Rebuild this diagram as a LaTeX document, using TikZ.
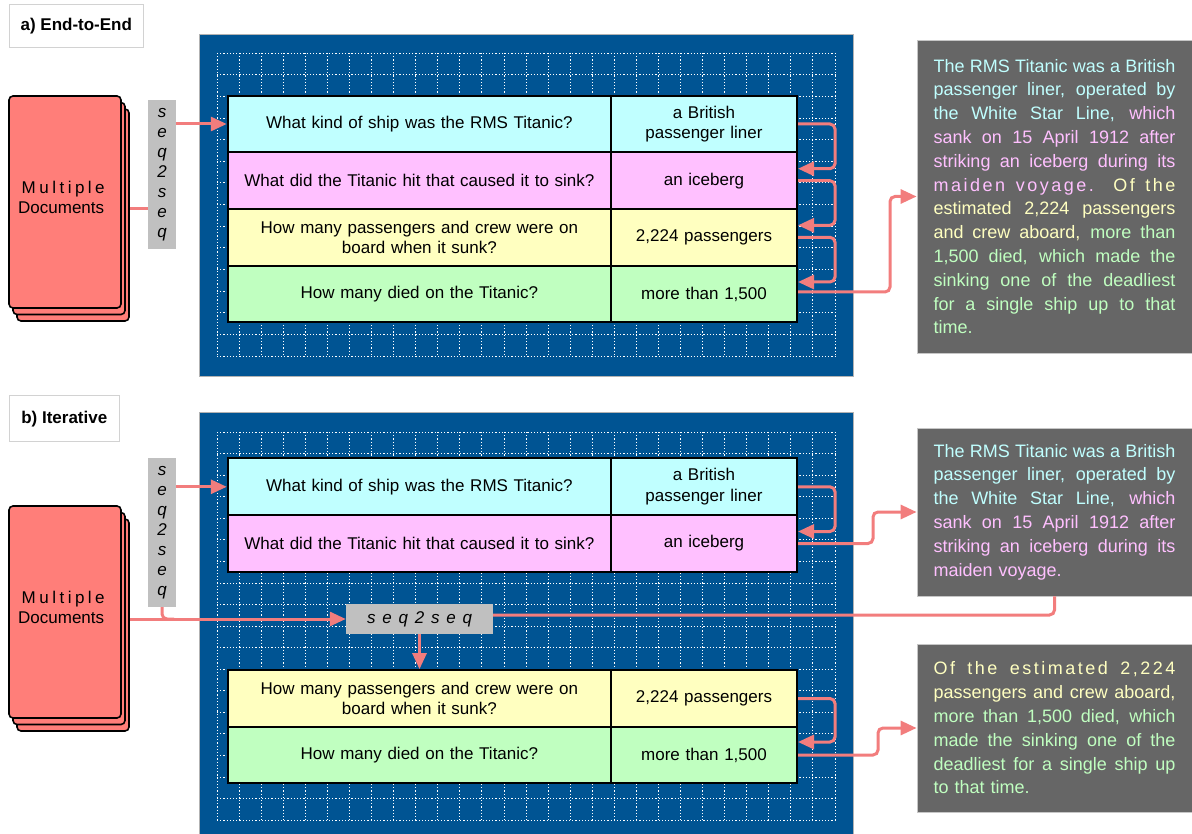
\documentclass[tikz,border=0pt]{standalone}
\usepackage{fontspec}
\setmainfont{Liberation Sans}
\usetikzlibrary{arrows.meta}
\definecolor{panelblue}{RGB}{0,84,147}
\definecolor{qcyan}{RGB}{192,255,255}
\definecolor{qpink}{RGB}{255,192,255}
\definecolor{qyellow}{RGB}{255,255,192}
\definecolor{qgreen}{RGB}{192,255,192}
\definecolor{arrowred}{RGB}{242,125,125}
\definecolor{docred}{RGB}{255,126,121}
\definecolor{boxgray}{RGB}{102,102,102}
\definecolor{seqgray}{RGB}{192,192,192}
\newcommand{\jl}[1]{\makebox[242pt][s]{\spaceskip=0pt\xspaceskip=0pt #1}}
\newcommand{\mltp}{\makebox[90pt]{M\hfil u\hfil l\hfil t\hfil i\hfil p\hfil l\hfil e}}
\begin{document}
\begin{tikzpicture}[x=1pt,y=-1pt,
  gridline/.style={white, line width=0.8pt, dash pattern=on 1.2pt off 2pt},
  cell/.style={draw=black, line width=2pt, minimum height=56.7pt, inner sep=2pt, align=center, font=\fontsize{17}{20.5}\selectfont},
  qcell/.style={cell, minimum width=383.3pt, text width=375pt},
  acell/.style={cell, minimum width=186pt, text width=178pt},
  doc/.style={draw=black, line width=1.6pt, fill=docred, rounded corners=4pt, minimum width=112pt, minimum height=212pt},
  doctext/.style={font=\fontsize{17}{19.6}\selectfont, align=left, inner sep=0pt, anchor=west},
  seqv/.style={fill=seqgray, minimum width=28pt, minimum height=149pt, inner sep=0pt, align=center, font=\fontsize{17}{20}\selectfont\itshape},
  seqh/.style={fill=seqgray, minimum width=147pt, minimum height=30pt, inner sep=0pt, font=\fontsize{17}{20}\selectfont\itshape},
  arr/.style={draw=arrowred, line width=3pt, rounded corners=5pt, -{Triangle[length=16pt,width=14pt]}},
  conn/.style={draw=arrowred, line width=3pt, rounded corners=5pt},
  panellabel/.style={draw=gray!35, line width=1pt, fill=white, font=\fontsize{17}{20}\selectfont\bfseries, inner sep=0pt},
  tbox/.style={fill=boxgray, draw=gray!45, line width=0.8pt, text width=242pt, inner xsep=16.5pt, inner ysep=0pt, align=left, font=\fontsize{18}{23.8}\selectfont}
]
\useasboundingbox (0,0) rectangle (1192,834);

% ---------- panel a ----------
\fill[panelblue] (199.5,34.5) rectangle (853.5,376.5);
\draw[gray!60, line width=1pt] (199.5,34.5) rectangle (853.5,376.5);
\foreach \i in {0,...,28} \draw[gridline] (217+\i*22.07,53) -- (217+\i*22.07,356);
\foreach \j in {0,...,14} \draw[gridline] (217,53+\j*21.64) -- (835,53+\j*21.64);

\node[panellabel, minimum width=134pt, minimum height=43pt] (labA) at (76.3,25.7) {a) End-to-End};

\node[doc] (docA3) at (73,215) {};
\node[doc] (docA2) at (69,208.5) {};
\node[doc] (docA) at (65,202) {};
\node[doctext] (docAt) at (18,197.5) {\mltp\\Documents};

\node[seqv] (seqA) at (162,174.5) {s\\e\\q\\2\\s\\e\\q};

\node[qcell, fill=qcyan] (qA1) at (419.4,124) {What kind of ship was the RMS Titanic?};
\node[acell, fill=qcyan] (aA1) at (704,124) {a British\\passenger liner};
\node[qcell, fill=qpink] (qA2) at (419.4,180.7) {What did the Titanic hit that caused it to sink?};
\node[acell, fill=qpink] (aA2) at (704,180.7) {an iceberg};
\node[qcell, fill=qyellow] (qA3) at (419.4,237.3) {How many passengers and crew were on\\board when it sunk?};
\node[acell, fill=qyellow] (aA3) at (704,237.3) {2,224 passengers};
\node[qcell, fill=qgreen] (qA4) at (419.4,294) {How many died on the Titanic?};
\node[acell, fill=qgreen] (aA4) at (704,294) {more than 1,500};

\node[tbox, minimum height=313pt] (tA) at (1054.5,196.5) {%
\jl{\color{qcyan}The RMS Titanic was a British}\\
\jl{\color{qcyan}passenger liner, operated by}\\
\jl{\color{qcyan}the White Star Line, \color{qpink}which}\\
\jl{\color{qpink}sank on 15 April 1912 after}\\
\jl{\color{qpink}striking an iceberg during its}\\
\jl{\addfontfeature{LetterSpace=14}\color{qpink}maiden voyage. \color{qyellow}Of the}\\
\jl{\color{qyellow}estimated 2,224 passengers}\\
\jl{\color{qyellow}and crew aboard, \color{qgreen}more than}\\
\jl{\color{qgreen}1,500 died, which made the}\\
\jl{\color{qgreen}sinking one of the deadliest}\\
\jl{\color{qgreen}for a single ship up to that}\\
{\color{qgreen}time.}};

\coordinate (docAout) at ([yshift=6.5pt]docA3.east);
\draw[conn] (docAout) -- (docAout -| seqA.west);
\draw[arr] (seqA.east |- qA1.west) -- (qA1.west);
\draw[arr] (aA1.east) -- ++(37,0) |- ([yshift=12pt]aA2.east);
\draw[arr] (aA2.east) -- ++(37,0) |- ([yshift=12pt]aA3.east);
\draw[arr] (aA3.east) -- ++(37,0) |- ([yshift=12pt]aA4.east);
\draw[arr] ([yshift=2pt]aA4.east) -- ++(92,0) |- (tA.west);

% ---------- panel b ----------
\fill[panelblue] (199.5,412.5) rectangle (853.5,834);
\draw[gray!60, line width=1pt] (199.5,834) -- (199.5,412.5) -- (853.5,412.5) -- (853.5,834);
\foreach \i in {0,...,28} \draw[gridline] (217+\i*22.07,432) -- (217+\i*22.07,820);
\foreach \j in {0,...,18} \draw[gridline] (217,432+\j*21.56) -- (835,432+\j*21.56);

\node[panellabel, minimum width=110pt, minimum height=45.7pt] (labB) at (64.3,418.8) {b) Iterative};

\node[doc] (docB3) at (73,625) {};
\node[doc] (docB2) at (69,618.5) {};
\node[doc] (docB) at (65,612) {};
\node[doctext] (docBt) at (18,607.5) {\mltp\\Documents};

\node[seqv] (seqB) at (162,532.5) {s\\e\\q\\2\\s\\e\\q};
\node[seqh] (seqC) at (419.5,619) {\makebox[105pt][s]{\spaceskip=0pt\xspaceskip=0pt s e q 2 s e q}};

\node[qcell, fill=qcyan] (qB1) at (419.4,486.8) {What kind of ship was the RMS Titanic?};
\node[acell, fill=qcyan] (aB1) at (704,486.8) {a British\\passenger liner};
\node[qcell, fill=qpink] (qB2) at (419.4,543.5) {What did the Titanic hit that caused it to sink?};
\node[acell, fill=qpink] (aB2) at (704,543.5) {an iceberg};
\node[qcell, fill=qyellow] (qB3) at (419.4,698.5) {How many passengers and crew were on\\board when it sunk?};
\node[acell, fill=qyellow] (aB3) at (704,698.5) {2,224 passengers};
\node[qcell, fill=qgreen, minimum height=56pt] (qB4) at (419.4,755) {How many died on the Titanic?};
\node[acell, fill=qgreen, minimum height=56pt] (aB4) at (704,755) {more than 1,500};

\node[tbox, minimum height=168pt] (tB) at (1054.5,512) {%
\jl{\color{qcyan}The RMS Titanic was a British}\\
\jl{\color{qcyan}passenger liner, operated by}\\
\jl{\color{qcyan}the White Star Line, \color{qpink}which}\\
\jl{\color{qpink}sank on 15 April 1912 after}\\
\jl{\color{qpink}striking an iceberg during its}\\
{\color{qpink}maiden voyage.}};

\node[tbox, minimum height=168pt] (tC) at (1054.5,728) {%
\jl{\addfontfeature{LetterSpace=14}\color{qyellow}Of the estimated 2,224}\\
\jl{\color{qyellow}passengers and crew aboard,}\\
\jl{\color{qgreen}more than 1,500 died, which}\\
\jl{\color{qgreen}made the sinking one of the}\\
\jl{\color{qgreen}deadliest for a single ship up}\\
{\color{qgreen}to that time.}};

\coordinate (docBout) at ([yshift=6pt]docB3.east);
\coordinate (joinB) at (seqB.south |- seqC.west);
\draw[conn] (seqB.south) |- ([xshift=12pt]joinB);
\draw[arr] (docBout) -- (docBout -| seqC.west);
\draw[arr] (seqB.east |- qB1.west) -- (qB1.west);
\draw[arr] (seqC.south) -- (seqC.south |- qB3.north);
\draw[conn] ([yshift=4pt]seqC.east) -| (tB.south);
\draw[arr] (aB1.east) -- ++(37,0) |- ([yshift=12pt]aB2.east);
\draw[arr] (aB2.east) -- ++(75,0) |- (tB.west);
\draw[arr] (aB3.east) -- ++(37,0) |- ([yshift=13pt]aB4.east);
\draw[arr] (aB4.east) -- ++(80,0) |- (tC.west);
\end{tikzpicture}
\end{document}
